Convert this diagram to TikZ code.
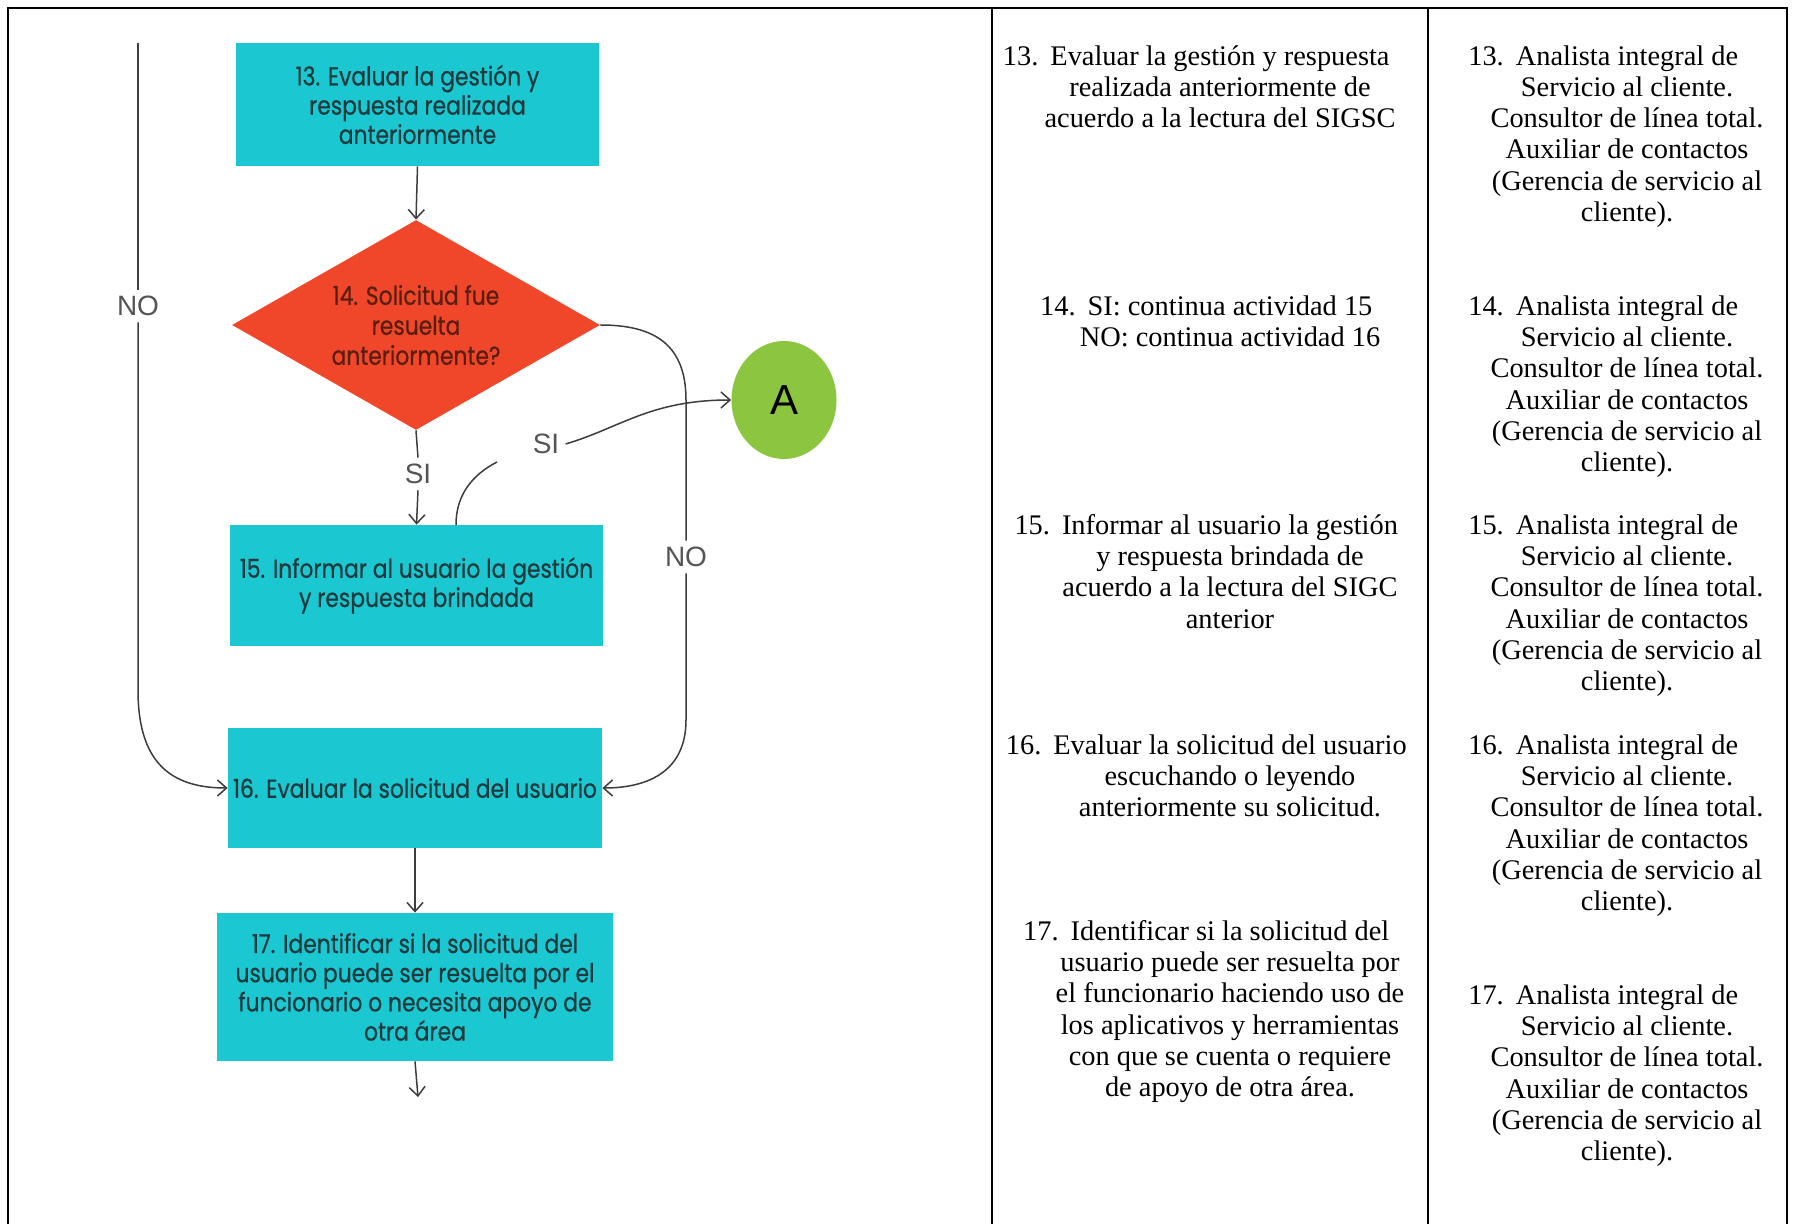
\documentclass[tikz,border=0pt]{standalone}
\usepackage{fontspec}
\setmainfont{Liberation Serif}
\newfontfamily\flowfont[FakeStretch=0.84,FakeBold=0.6]{Poppins}
\newfontfamily\lblfont{Liberation Sans}
\usetikzlibrary{shapes.geometric,arrows.meta}
\definecolor{boxteal}{HTML}{1BC8D2}
\definecolor{dred}{HTML}{F0472A}
\definecolor{agreen}{HTML}{8CC540}
\definecolor{boxtext}{HTML}{1F3A3D}
\definecolor{dtext}{HTML}{5A1E10}
\definecolor{linegray}{HTML}{3D3D3D}
\definecolor{lblgray}{HTML}{555555}
\tikzset{
  proc/.style={rectangle, fill=boxteal, draw=none, inner sep=0pt, align=center,
    font=\flowfont\fontsize{13}{14.6}\selectfont, text=boxtext},
  dec/.style={diamond, fill=dred, draw=none, inner sep=0pt, aspect=1.75, align=center,
    minimum width=184pt, minimum height=105pt,
    font=\flowfont\fontsize{13}{15}\selectfont, text=dtext},
  conA/.style={ellipse, fill=agreen, draw=none, inner sep=0pt,
    minimum width=52.5pt, minimum height=59pt, font=\lblfont\fontsize{21}{21}\selectfont},
  lbl/.style={font=\lblfont\fontsize{14}{14}\selectfont, text=lblgray, inner sep=3pt},
  conn/.style={draw=linegray, line width=0.75pt},
  arr/.style={conn, -{Straight Barb[length=4.5pt,width=8pt]}},
  tbl/.style={draw=black, line width=1.2pt},
  cell/.style={anchor=north, align=center, inner sep=0pt,
    font=\fontsize{14.2}{15.65}\selectfont}
}
\begin{document}
\begin{tikzpicture}[x=0.5pt,y=-0.5pt]
\useasboundingbox (0,0) rectangle (1794,1224);
\fill[white] (0,0) rectangle (1794,1224);

% table frame
\draw[tbl] (8,1224) -- (8,8) -- (1787,8) -- (1787,1224);
\draw[tbl] (992,8) -- (992,1224);
\draw[tbl] (1428,8) -- (1428,1224);

% flowchart nodes
\node[proc, minimum width=181.5pt, minimum height=61.5pt] (b13) at (417.5,104.5)
  {13. Evaluar la gestión y\\respuesta realizada\\anteriormente};
\node[dec] (d14) at (416,325) {14. Solicitud fue\\resuelta\\anteriormente?};
\node[proc, minimum width=186.5pt, minimum height=60.5pt] (b15) at (416.5,585.5)
  {15. Informar al usuario la gestión\\y respuesta brindada};
\node[proc, minimum width=187pt, minimum height=60pt] (b16) at (415,788)
  {16. Evaluar la solicitud del usuario};
\node[proc, minimum width=198pt, minimum height=74pt] (b17) at (415,987)
  {17. Identificar si la solicitud del\\usuario puede ser resuelta por el\\funcionario o necesita apoyo de\\otra área};
\node[conA] (A) at (784,400) {A};

% labels
\node[lbl] (no1) at (138,306) {NO};
\node[lbl] (si1) at (418,474) {SI};
\node[lbl] (si2) at (546,444) {SI};
\node[lbl] (no2) at (686,557) {NO};

% free ends
\coordinate (topL) at (138,43);
\coordinate (s15) at (456,525);
\coordinate (s15e) at (497,462);
\coordinate (end17) at (418,1097);

% connectors
\draw[conn] (topL) -- (no1.north);
\draw[arr] (no1.south) -- (138,690) .. controls (138,762) and (170,788) .. (b16.west);
\draw[arr] (b13.south) -- (d14.north);
\draw[conn] (d14.south) -- (si1.north);
\draw[arr] (si1.south) -- (b15.north);
\draw[conn] (s15) .. controls (456,495) and (472,475) .. (s15e);
\draw[arr] (si2.east) .. controls (620,428) and (650,400) .. (A.west);
\draw[conn] (d14.east) .. controls (655,325) and (686,345) .. (686,400) -- (no2.north);
\draw[arr] (no2.south) -- (686,720) .. controls (686,770) and (650,788) .. (b16.east);
\draw[arr] (b16.south) -- (b17.north);
\draw[arr] (b17.south) -- (end17);

% table column 2
\node[cell] (c13) at (1220,45) {\llap{13.\hspace{6pt}}Evaluar la gestión y respuesta\\realizada anteriormente de\\acuerdo a la lectura del SIGSC};
\node[cell] (c14) at (1230,295) {\llap{14.\hspace{6pt}}SI: continua actividad 15\\NO: continua actividad 16};
\node[cell] (c15) at (1230,514) {\llap{15.\hspace{6pt}}Informar al usuario la gestión\\y respuesta brindada de\\acuerdo a la lectura del SIGC\\anterior};
\node[cell] (c16) at (1230,734) {\llap{16.\hspace{6pt}}Evaluar la solicitud del usuario\\escuchando o leyendo\\anteriormente su solicitud.};
\node[cell] (c17) at (1230,920) {\llap{17.\hspace{6pt}}Identificar si la solicitud del\\usuario puede ser resuelta por\\el funcionario haciendo uso de\\los aplicativos y herramientas\\con que se cuenta o requiere\\de apoyo de otra área.};

% table column 3
\node[cell] (r13) at (1627,45) {\llap{13.\hspace{6pt}}Analista integral de\\Servicio al cliente.\\Consultor de línea total.\\Auxiliar de contactos\\(Gerencia de servicio al\\cliente).};
\node[cell] (r14) at (1627,295) {\llap{14.\hspace{6pt}}Analista integral de\\Servicio al cliente.\\Consultor de línea total.\\Auxiliar de contactos\\(Gerencia de servicio al\\cliente).};
\node[cell] (r15) at (1627,514) {\llap{15.\hspace{6pt}}Analista integral de\\Servicio al cliente.\\Consultor de línea total.\\Auxiliar de contactos\\(Gerencia de servicio al\\cliente).};
\node[cell] (r16) at (1627,734) {\llap{16.\hspace{6pt}}Analista integral de\\Servicio al cliente.\\Consultor de línea total.\\Auxiliar de contactos\\(Gerencia de servicio al\\cliente).};
\node[cell] (r17) at (1627,984) {\llap{17.\hspace{6pt}}Analista integral de\\Servicio al cliente.\\Consultor de línea total.\\Auxiliar de contactos\\(Gerencia de servicio al\\cliente).};
\end{tikzpicture}
\end{document}
